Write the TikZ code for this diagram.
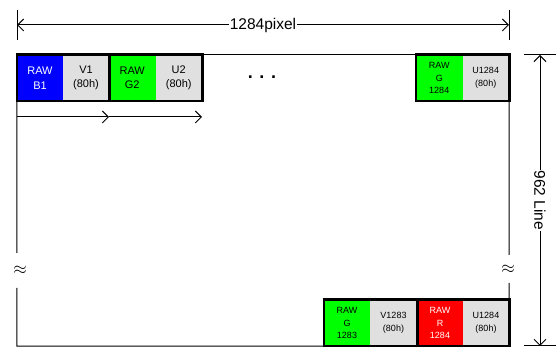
\documentclass[tikz,border=0pt]{standalone}
\usepackage{fontspec}
\setmainfont{Liberation Sans}
\usetikzlibrary{arrows.meta}
\definecolor{cellgray}{RGB}{224,224,224}
\definecolor{rawblue}{RGB}{0,0,255}
\definecolor{rawgreen}{RGB}{0,255,0}
\definecolor{rawred}{RGB}{255,0,0}
\begin{document}
\begin{tikzpicture}[x=1pt,y=-1pt,
  cell/.style={minimum height=46pt, inner sep=0pt, align=center, font=\fontsize{11}{14.5}\selectfont},
  smallcell/.style={cell, font=\fontsize{9}{12.8}\selectfont},
  frame/.style={line width=2.6pt},
  thinline/.style={line width=1pt},
  dimarrow/.style={line width=1pt, {Straight Barb[length=6pt,width=12pt]}-{Straight Barb[length=6pt,width=12pt]}},
  fwdarrow/.style={line width=1pt, -{Straight Barb[length=6pt,width=12pt]}},
  breaksym/.style={inner sep=0pt, font=\fontsize{19}{19}\selectfont},
  dimlabel/.style={fill=white, inner sep=1pt, font=\fontsize{15.5}{15.5}\selectfont}
]
\useasboundingbox (0,0) rectangle (558,347);
% top-left cells
\node[cell, fill=rawblue, text=white, minimum width=46pt] (b1) at (40,78) {RAW\\B1};
\node[cell, fill=cellgray, minimum width=46pt] (v1) at (86,78) {V1\\(80h)};
\node[cell, fill=rawgreen, minimum width=46.5pt] (g2) at (132.25,78) {RAW\\G2};
\node[cell, fill=cellgray, minimum width=46.5pt] (u2) at (178.75,78) {U2\\(80h)};
% top-right cells
\node[smallcell, fill=rawgreen, minimum width=46.5pt] (g1284) at (439.25,78) {RAW\\G\\1284};
\node[smallcell, fill=cellgray, minimum width=46.5pt] (u1284) at (485.75,78) {U1284\\(80h)};
% bottom cells
\node[smallcell, fill=rawgreen, minimum width=46pt] (g1283) at (347,323) {RAW\\G\\1283};
\node[smallcell, fill=cellgray, minimum width=47pt] (v1283) at (393.5,323) {V1283\\(80h)};
\node[smallcell, fill=rawred, text=white, minimum width=46pt] (r1284) at (440,323) {RAW\\R\\1284};
\node[smallcell, fill=cellgray, minimum width=46pt] (u1284b) at (486,323) {U1284\\(80h)};
% frame outline (thin)
\draw[thinline] (u2.north east) -- (g1284.north west);
\coordinate (lbreakA) at (17,253);
\coordinate (lbreakB) at (17,288);
\coordinate (rbreakA) at (509,255);
\coordinate (rbreakB) at (509,283);
\draw[thinline] (b1.south west) -- (lbreakA);
\draw[thinline] (lbreakB) -- (b1.south west |- g1283.south west) -- (g1283.south west);
\draw[thinline] (u1284.south east) -- (rbreakA);
\draw[thinline] (rbreakB) -- (u1284b.north east);
\node[breaksym] (lbreak) at (20,270) {$\approx$};
\node[breaksym] (rbreak) at (508,269) {$\approx$};
% thick frames
\draw[frame] (b1.north west) rectangle (v1.south east);
\draw[frame] (g2.north west) rectangle (u2.south east);
\draw[frame] (g1284.north west) rectangle (u1284.south east);
\draw[frame] (g1283.north west) rectangle (v1283.south east);
\draw[frame] (r1284.north west) rectangle (u1284b.south east);
% dots
\node[inner sep=0pt, font=\fontsize{18}{18}\selectfont\bfseries] (dots) at (262,77) {. . .};
% forward arrows
\coordinate (fa0) at (17,117);
\coordinate (fa1) at (109,117);
\coordinate (fa2) at (202,117);
\draw[fwdarrow] (fa0) -- (fa1);
\draw[fwdarrow] (fa1) -- (fa2);
% top dimension
\coordinate (tdL1) at (17,10); \coordinate (tdL2) at (17,40);
\coordinate (tdR1) at (509,10); \coordinate (tdR2) at (509,40);
\draw[thinline] (tdL1) -- (tdL2);
\draw[thinline] (tdR1) -- (tdR2);
\coordinate (tdL) at (17,25); \coordinate (tdR) at (509,25);
\draw[dimarrow] (tdL) -- (tdR) node[midway, dimlabel] (toplabel) {1284pixel};
% right dimension
\coordinate (rdT1) at (524,55); \coordinate (rdT2) at (556,55);
\coordinate (rdB1) at (524,346); \coordinate (rdB2) at (556,346);
\draw[thinline] (rdT1) -- (rdT2);
\draw[thinline] (rdB1) -- (rdB2);
\coordinate (rdT) at (540,55); \coordinate (rdB) at (540,346);
\draw[dimarrow] (rdT) -- (rdB) node[midway, dimlabel, rotate=-90] (rightlabel) {962 Line};
\end{tikzpicture}
\end{document}
